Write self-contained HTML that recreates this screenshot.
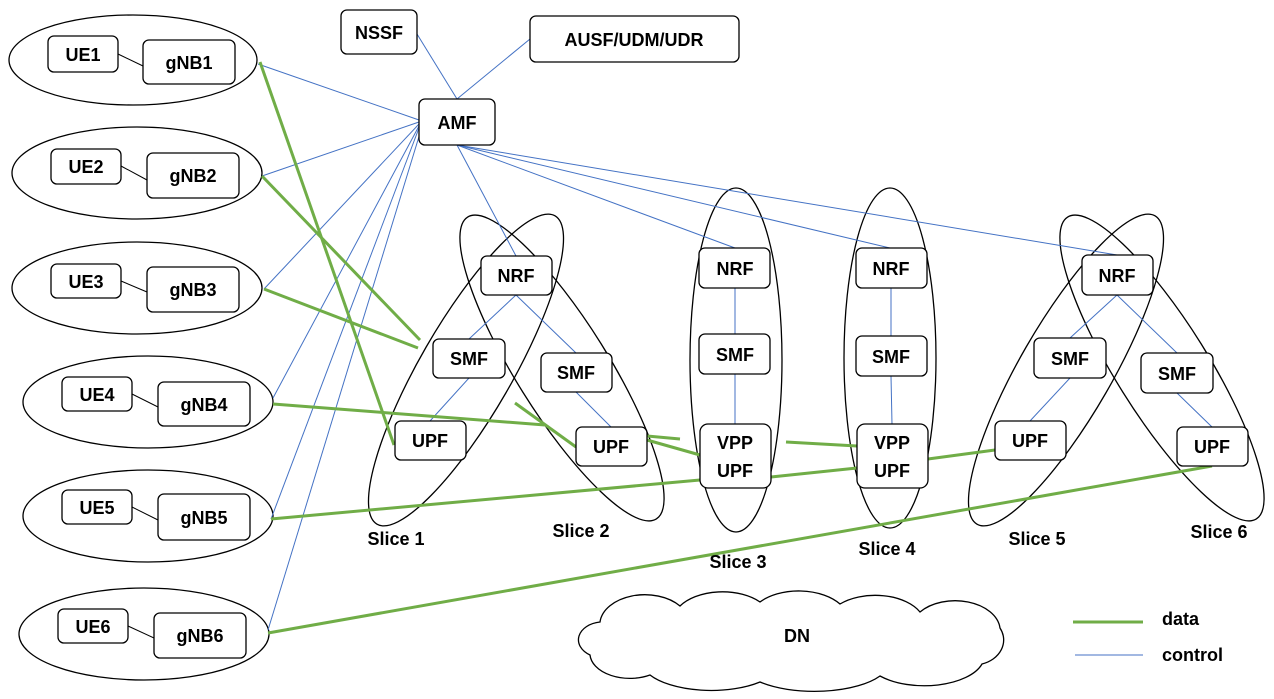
<!DOCTYPE html>
<html><head><meta charset="utf-8"><style>
html,body{margin:0;padding:0;background:#fff;}
svg text{font-family:"Liberation Sans",sans-serif;font-weight:bold;font-size:18px;fill:#000;}
</style></head><body>
<svg width="1274" height="694" viewBox="0 0 1274 694" xmlns="http://www.w3.org/2000/svg">
<g fill="none" stroke="#000" stroke-width="1.3">
<ellipse cx="133" cy="60" rx="124" ry="45"/>
<ellipse cx="137" cy="173" rx="125" ry="46"/>
<ellipse cx="137" cy="288" rx="125" ry="46"/>
<ellipse cx="148" cy="402" rx="125" ry="46"/>
<ellipse cx="148" cy="516" rx="125" ry="46"/>
<ellipse cx="144" cy="634" rx="125" ry="46"/>
<ellipse cx="466" cy="370" rx="178" ry="46" transform="rotate(-60 466 370)"/>
<ellipse cx="562" cy="368" rx="178" ry="46" transform="rotate(58 562 368)"/>
<ellipse cx="736" cy="360" rx="46" ry="172"/>
<ellipse cx="890" cy="358" rx="46" ry="170"/>
<ellipse cx="1066" cy="370" rx="178" ry="46" transform="rotate(-60 1066 370)"/>
<ellipse cx="1162" cy="368" rx="178" ry="46" transform="rotate(58 1162 368)"/>
</g>
<!-- cloud -->
<path d="M600,622 A45,30 0 0 1 680,606 A50,30 0 0 1 760,602 A50,30 0 0 1 840,604 A50,30 0 0 1 920,612 A45,30 0 0 1 1000,628 A30,25 0 0 1 982,664 A60,30 0 0 1 880,676 A75,30 0 0 1 760,682 A70,30 0 0 1 650,675 A40,25 0 0 1 590,655 A25,18 0 0 1 600,622 Z" fill="#fff" stroke="#000" stroke-width="1.3"/>
<!-- control lines -->
<g stroke="#4472c4" stroke-width="1">
<line x1="417" y1="34" x2="457" y2="99"/><line x1="530" y1="39" x2="457" y2="99"/>
<line x1="419" y1="120" x2="258" y2="64"/><line x1="419" y1="122" x2="262" y2="176"/>
<line x1="419" y1="124" x2="264" y2="289"/><line x1="419" y1="126" x2="273" y2="398"/>
<line x1="419" y1="128" x2="271" y2="519"/><line x1="421" y1="130" x2="268" y2="630"/>
<line x1="457" y1="145" x2="516" y2="256"/><line x1="457" y1="145" x2="735" y2="248"/>
<line x1="457" y1="145" x2="890" y2="248"/><line x1="457" y1="145" x2="1117" y2="255"/>
<line x1="516" y1="295" x2="469" y2="339"/><line x1="516" y1="295" x2="576" y2="353"/>
<line x1="469" y1="378" x2="430" y2="421"/><line x1="576" y1="392" x2="611" y2="427"/>
<line x1="735" y1="288" x2="735" y2="334"/><line x1="735" y1="374" x2="735" y2="424"/>
<line x1="891" y1="288" x2="891" y2="336"/><line x1="891" y1="376" x2="892" y2="424"/>
<line x1="1117" y1="295" x2="1070" y2="338"/><line x1="1117" y1="295" x2="1177" y2="353"/>
<line x1="1070" y1="378" x2="1030" y2="421"/><line x1="1177" y1="393" x2="1212" y2="427"/>
<line x1="1075" y1="655" x2="1143" y2="655"/>
</g>
<!-- data lines -->
<g stroke="#70ad47" stroke-width="3">
<line x1="260" y1="62" x2="394" y2="445"/>
<line x1="262" y1="176" x2="420" y2="340"/>
<line x1="264" y1="289" x2="418" y2="348"/>
<line x1="273" y1="404" x2="545" y2="425"/>
<line x1="515" y1="403" x2="576" y2="447"/>
<line x1="647" y1="436" x2="680" y2="439"/>
<line x1="647" y1="440" x2="700" y2="455"/>
<line x1="786" y1="442" x2="857" y2="446"/>
<line x1="271" y1="519" x2="700" y2="480"/>
<line x1="771" y1="477" x2="857" y2="468"/>
<line x1="928" y1="459" x2="995" y2="450"/>
<line x1="268" y1="633" x2="1212" y2="466"/>
<line x1="1073" y1="622" x2="1143" y2="622"/>
</g>
<!-- boxes -->
<g fill="#fff" stroke="#000" stroke-width="1.3">
<rect x="48" y="36" width="70" height="36" rx="6"/><rect x="143" y="40" width="92" height="44" rx="6"/>
<rect x="51" y="149" width="70" height="35" rx="6"/><rect x="147" y="153" width="92" height="45" rx="6"/>
<rect x="51" y="264" width="70" height="34" rx="6"/><rect x="147" y="267" width="92" height="45" rx="6"/>
<rect x="62" y="377" width="70" height="34" rx="6"/><rect x="158" y="382" width="92" height="44" rx="6"/>
<rect x="62" y="490" width="70" height="34" rx="6"/><rect x="158" y="494" width="92" height="46" rx="6"/>
<rect x="58" y="609" width="70" height="34" rx="6"/><rect x="154" y="613" width="92" height="45" rx="6"/>
<rect x="341" y="10" width="76" height="44" rx="6"/><rect x="530" y="16" width="209" height="46" rx="6"/>
<rect x="419" y="99" width="76" height="46" rx="6"/>
<rect x="481" y="256" width="71" height="39" rx="6"/><rect x="433" y="339" width="72" height="39" rx="6"/><rect x="395" y="421" width="71" height="39" rx="6"/>
<rect x="541" y="353" width="71" height="39" rx="6"/><rect x="576" y="427" width="71" height="39" rx="6"/>
<rect x="699" y="248" width="71" height="40" rx="6"/><rect x="699" y="334" width="71" height="40" rx="6"/><rect x="700" y="424" width="71" height="64" rx="8"/>
<rect x="856" y="248" width="71" height="40" rx="6"/><rect x="856" y="336" width="71" height="40" rx="6"/><rect x="857" y="424" width="71" height="64" rx="8"/>
<rect x="1082" y="255" width="71" height="40" rx="6"/><rect x="1034" y="338" width="72" height="40" rx="6"/><rect x="995" y="421" width="71" height="39" rx="6"/>
<rect x="1141" y="353" width="72" height="40" rx="6"/><rect x="1177" y="427" width="71" height="39" rx="6"/>
</g>
<line x1="118" y1="54" x2="143" y2="66" stroke="#000"/><line x1="121" y1="166" x2="147" y2="180" stroke="#000"/>
<line x1="121" y1="281" x2="147" y2="292" stroke="#000"/><line x1="132" y1="394" x2="158" y2="407" stroke="#000"/>
<line x1="132" y1="507" x2="158" y2="520" stroke="#000"/><line x1="128" y1="626" x2="154" y2="638" stroke="#000"/>
<g text-anchor="middle">
<text x="83" y="61">UE1</text><text x="189" y="69">gNB1</text>
<text x="86" y="173">UE2</text><text x="193" y="182">gNB2</text>
<text x="86" y="288">UE3</text><text x="193" y="296">gNB3</text>
<text x="97" y="401">UE4</text><text x="204" y="411">gNB4</text>
<text x="97" y="514">UE5</text><text x="204" y="524">gNB5</text>
<text x="93" y="633">UE6</text><text x="200" y="642">gNB6</text>
<text x="379" y="39">NSSF</text><text x="634" y="46">AUSF/UDM/UDR</text><text x="457" y="129">AMF</text>
<text x="516" y="282">NRF</text><text x="469" y="365">SMF</text><text x="430" y="447">UPF</text>
<text x="576" y="379">SMF</text><text x="611" y="453">UPF</text>
<text x="735" y="275">NRF</text><text x="735" y="361">SMF</text><text x="735" y="449">VPP</text><text x="735" y="477">UPF</text>
<text x="891" y="275">NRF</text><text x="891" y="363">SMF</text><text x="892" y="449">VPP</text><text x="892" y="477">UPF</text>
<text x="1117" y="282">NRF</text><text x="1070" y="365">SMF</text><text x="1030" y="447">UPF</text>
<text x="1177" y="380">SMF</text><text x="1212" y="453">UPF</text>
<text x="396" y="545">Slice 1</text><text x="581" y="537">Slice 2</text><text x="738" y="568">Slice 3</text>
<text x="887" y="555">Slice 4</text><text x="1037" y="545">Slice 5</text><text x="1219" y="538">Slice 6</text>
<text x="797" y="642">DN</text>
</g>
<text x="1162" y="625">data</text><text x="1162" y="661">control</text>
</svg>
</body></html>
